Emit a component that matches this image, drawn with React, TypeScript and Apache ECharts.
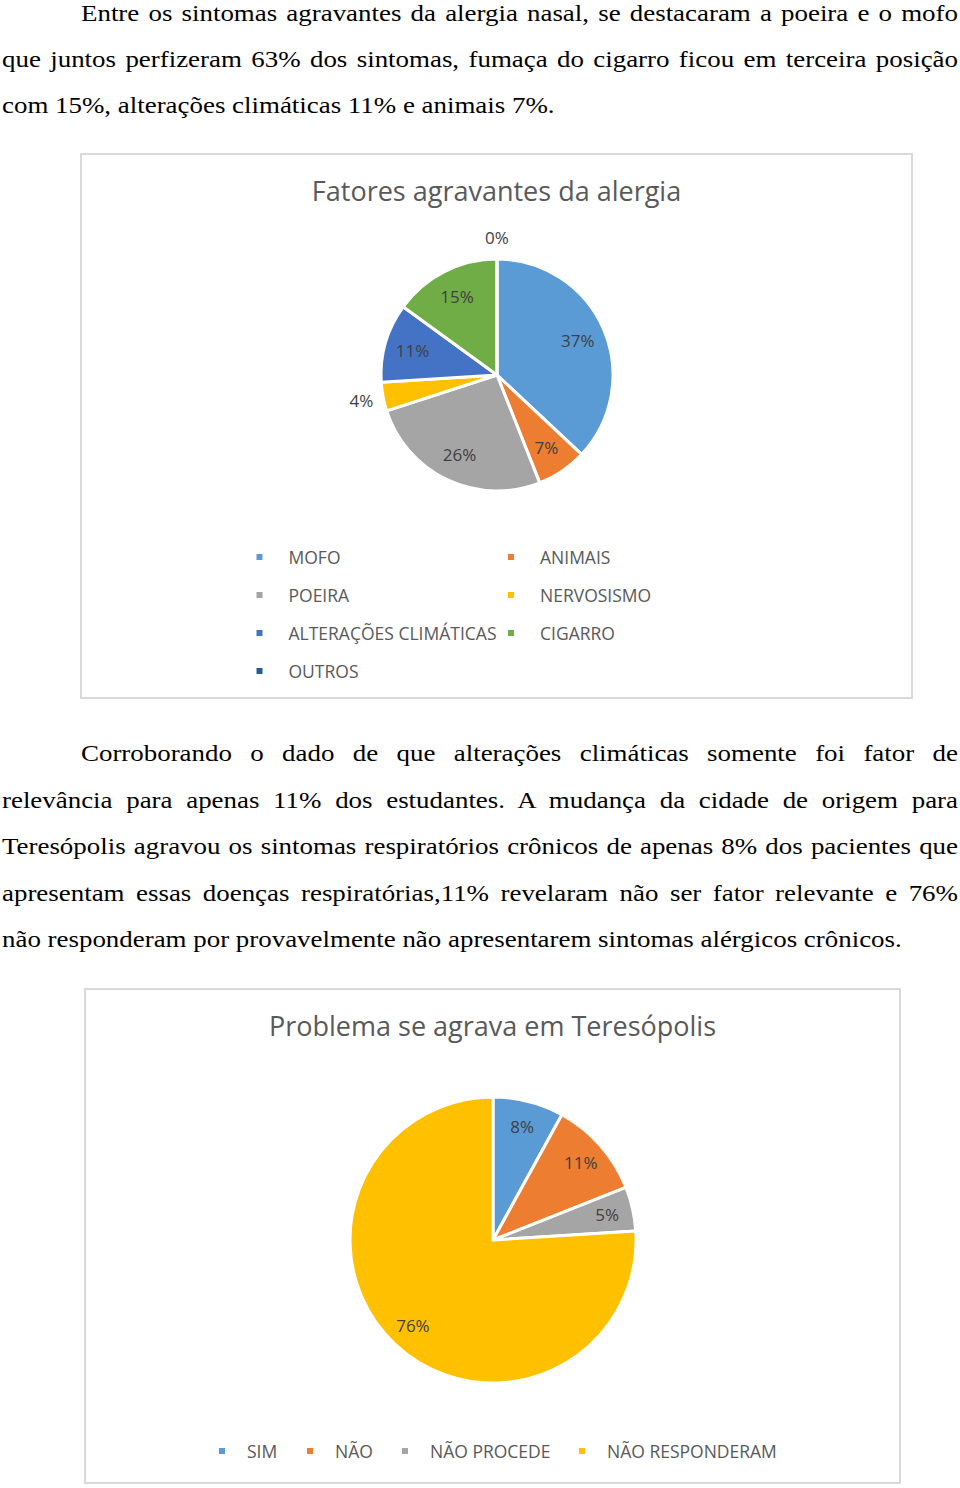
import React, { useEffect, useRef } from "react";
import * as echarts from "echarts";

// ---------- text ----------
const para1Lines = [
  "Entre os sintomas agravantes da alergia nasal, se destacaram a poeira e o mofo",
  "que juntos perfizeram 63% dos sintomas, fumaça do cigarro ficou em terceira posição",
  "com 15%, alterações climáticas 11% e animais 7%.",
];
const para1Baselines = [21.5, 67.5, 113.5];

const para2Lines = [
  "Corroborando o dado de que alterações climáticas somente foi fator de",
  "relevância para apenas 11% dos estudantes. A mudança da cidade de origem para",
  "Teresópolis agravou os sintomas respiratórios crônicos de apenas 8% dos pacientes que",
  "apresentam essas doenças respiratórias,11% revelaram não ser fator relevante e 76%",
  "não responderam por provavelmente não apresentarem sintomas alérgicos crônicos.",
];
const para2Baselines = [761, 808, 854, 901, 947];

// ---------- chart 1 data ----------
const chart1Title = "Fatores agravantes da alergia";
const chart1Categories = [
  "MOFO",
  "ANIMAIS",
  "POEIRA",
  "NERVOSISMO",
  "ALTERAÇÕES CLIMÁTICAS",
  "CIGARRO",
  "OUTROS",
];
const chart1Values = [37, 7, 26, 4, 11, 15, 0];
const chart1Colors = ["#5B9BD5", "#ED7D31", "#A5A5A5", "#FFC000", "#4472C4", "#70AD47", "#255E91"];
const chart1OutsideLabels = ["NERVOSISMO", "OUTROS"];
const chart1LegendCol1 = ["MOFO", "POEIRA", "ALTERAÇÕES CLIMÁTICAS", "OUTROS"];
const chart1LegendCol2 = ["ANIMAIS", "NERVOSISMO", "CIGARRO"];

// ---------- chart 2 data ----------
const chart2Title = "Problema se agrava em Teresópolis";
const chart2Categories = ["SIM", "NÃO", "NÃO PROCEDE", "NÃO RESPONDERAM"];
const chart2Values = [8, 11, 5, 76];
const chart2Colors = ["#5B9BD5", "#ED7D31", "#A5A5A5", "#FFC000"];

const SANS = '"Open Sans", "Noto Sans", sans-serif';
const SERIF = '"Liberation Serif", "Times New Roman", serif';
const TEXT_SIZE = 24;
const TEXT_SCALE = 1.121;

const pctFormatter = (p: any) => Math.round(p.percent) + "%";

function border(w: number, h: number) {
  return [
    {
      type: "rect",
      silent: true,
      shape: { x: 1, y: 1, width: w - 2, height: h - 2 },
      style: { fill: "none", stroke: "#D9D9D9", lineWidth: 2 },
    },
  ];
}

function legendStyle(padLeft: number) {
  return {
    fontSize: 17.5,
    color: "#595959",
    fontFamily: SANS,
    lineHeight: 20,
    padding: [0, 0, 0, padLeft],
  };
}

function titleOpt(text: string) {
  return {
    text,
    left: "center",
    top: 21,
    padding: 0,
    textStyle: { fontSize: 27, color: "#595959", fontWeight: "normal", fontFamily: SANS, lineHeight: 32 },
  };
}

function buildChart1(w: number, h: number) {
  const center = [417, 222];
  const labelBase = {
    type: "pie",
    center,
    startAngle: 90,
    clockwise: true,
    silent: true,
    itemStyle: { color: "rgba(0,0,0,0)", borderWidth: 0 },
    labelLine: { show: false },
    emphasis: { disabled: true },
    z: 3,
  };
  const labelStyle = {
    show: true,
    position: "inside",
    formatter: pctFormatter,
    color: "#404040",
    fontSize: 17,
    fontFamily: SANS,
  };
  const legendBase = {
    orient: "vertical",
    top: 394,
    padding: 0,
    itemWidth: 8,
    itemHeight: 8,
    itemGap: 18,
    icon: "rect",
    selectedMode: false,
    textStyle: legendStyle(20),
  };
  return {
    animation: false,
    backgroundColor: "#ffffff",
    title: titleOpt(chart1Title),
    legend: [
      { ...legendBase, data: chart1LegendCol1, left: 174.5 },
      { ...legendBase, data: chart1LegendCol2, left: 426 },
    ],
    graphic: border(w, h),
    series: [
      {
        type: "pie",
        center,
        radius: [0, 116],
        startAngle: 90,
        clockwise: true,
        silent: true,
        data: chart1Categories.map((n, i) => ({
          name: n,
          value: chart1Values[i],
          itemStyle: { color: chart1Colors[i] },
        })),
        itemStyle: { borderColor: "#ffffff", borderWidth: 3 },
        label: { show: false },
        labelLine: { show: false },
        emphasis: { disabled: true },
      },
      {
        ...labelBase,
        radius: [54, 116],
        data: chart1Categories.map((n, i) => ({
          name: n,
          value: chart1Values[i],
          label: { show: !chart1OutsideLabels.includes(n) },
        })),
        label: labelStyle,
      },
      {
        ...labelBase,
        radius: [110, 160],
        data: chart1Categories.map((n, i) => ({
          name: n,
          value: chart1Values[i],
          label: { show: chart1OutsideLabels.includes(n) },
        })),
        label: labelStyle,
      },
    ],
  };
}

function buildChart2(w: number, h: number) {
  const center = [409, 252];
  const legendLefts = [133, 221, 316, 493];
  return {
    animation: false,
    backgroundColor: "#ffffff",
    title: titleOpt(chart2Title),
    legend: chart2Categories.map((n, i) => ({
      data: [n],
      left: legendLefts[i],
      top: 453,
      padding: 0,
      itemWidth: 8,
      itemHeight: 8,
      icon: "rect",
      selectedMode: false,
      textStyle: legendStyle(16),
    })),
    graphic: border(w, h),
    series: [
      {
        type: "pie",
        center,
        radius: [0, 143],
        startAngle: 90,
        clockwise: true,
        silent: true,
        data: chart2Categories.map((n, i) => ({
          name: n,
          value: chart2Values[i],
          itemStyle: { color: chart2Colors[i] },
        })),
        itemStyle: { borderColor: "#ffffff", borderWidth: 3 },
        label: { show: false },
        labelLine: { show: false },
        emphasis: { disabled: true },
      },
      {
        type: "pie",
        center,
        radius: [56, 172],
        startAngle: 90,
        clockwise: true,
        silent: true,
        data: chart2Categories.map((n, i) => ({ name: n, value: chart2Values[i] })),
        itemStyle: { color: "rgba(0,0,0,0)", borderWidth: 0 },
        label: {
          show: true,
          position: "inside",
          formatter: pctFormatter,
          color: "#404040",
          fontSize: 17,
          fontFamily: SANS,
        },
        labelLine: { show: false },
        emphasis: { disabled: true },
        z: 3,
      },
    ],
  };
}

function Chart({ left, top, width, height, build }: any) {
  const ref = useRef<HTMLDivElement>(null);
  useEffect(() => {
    if (!ref.current) return;
    const chart = echarts.init(ref.current, undefined, { renderer: "svg" });
    chart.setOption(build(width, height));
    return () => chart.dispose();
  }, []);
  return <div ref={ref} style={{ position: "absolute", left, top, width, height }} />;
}

function TextLine({ text, baseline, first, last }: any) {
  const x = first ? 81 : 2;
  const right = 958;
  const baseOffset = (TEXT_SIZE - 1.107 * TEXT_SIZE) / 2 + 0.891 * TEXT_SIZE;
  return (
    <div
      style={{
        position: "absolute",
        left: x / TEXT_SCALE,
        top: baseline - baseOffset,
        width: (right - x) / TEXT_SCALE,
        fontFamily: SERIF,
        fontSize: TEXT_SIZE,
        lineHeight: TEXT_SIZE + "px",
        color: "#000",
        whiteSpace: "nowrap",
        textAlign: last ? "left" : "justify",
        textAlignLast: last ? "left" : "justify",
      } as any}
    >
      {text}
    </div>
  );
}

export default function App() {
  return (
    <div
      style={{
        position: "absolute",
        left: 0,
        top: 0,
        width: 960,
        height: 1488,
        background: "#fff",
        overflow: "hidden",
      }}
    >
      <div
        style={{
          position: "absolute",
          left: 0,
          top: 0,
          width: 960 / TEXT_SCALE,
          height: 1488,
          transform: `scaleX(${TEXT_SCALE})`,
          transformOrigin: "0 0",
        }}
      >
        {para1Lines.map((t, i) => (
          <TextLine
            key={"a" + i}
            text={t}
            baseline={para1Baselines[i]}
            first={i === 0}
            last={i === para1Lines.length - 1}
          />
        ))}
        {para2Lines.map((t, i) => (
          <TextLine
            key={"b" + i}
            text={t}
            baseline={para2Baselines[i]}
            first={i === 0}
            last={i === para2Lines.length - 1}
          />
        ))}
      </div>
      <Chart left={80} top={153} width={833} height={546} build={buildChart1} />
      <Chart left={84} top={988} width={817} height={496} build={buildChart2} />
    </div>
  );
}
